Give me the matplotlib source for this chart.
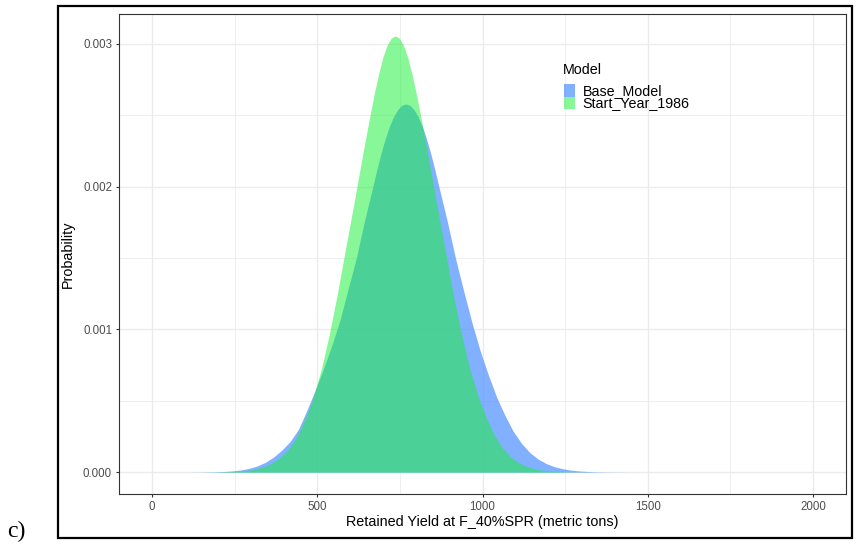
import matplotlib
matplotlib.use("Agg")
import matplotlib.pyplot as plt
from matplotlib.patches import Rectangle

plt.rcParams['font.family'] = ['Liberation Sans', 'DejaVu Sans']

# density curves
base_x = [118, 143, 168, 193, 218, 243, 268, 293, 318, 343, 368, 393, 418, 443,
          468, 493, 518, 543, 568, 593, 618, 643, 668, 680.5, 693, 705.5, 718,
          730.5, 743, 755.5, 768, 780.5, 793, 805.5, 818, 830.5, 843, 855.5,
          868, 893, 918, 943, 968, 993, 1018, 1043, 1068, 1093, 1118,
          1143, 1168, 1193, 1218, 1243, 1268, 1293, 1318, 1343, 1368, 1393,
          1418, 1443]
base_y = [4e-7, 8e-7, 1.4e-6, 2.6e-6, 4.8e-6, 8.6e-6, 1.5e-5, 2.6e-5, 4.3e-5,
          6.9e-5, 0.000106, 0.000155, 0.000215, 0.000300, 0.000430, 0.000570,
          0.000720, 0.000880, 0.001060, 0.001280, 0.001500, 0.001761, 0.001999,
          0.002122, 0.002235, 0.002335, 0.002421, 0.002489, 0.002539, 0.002570,
          0.002580, 0.002570, 0.002539, 0.002489, 0.002421, 0.002335, 0.002235,
          0.002122, 0.001999, 0.001761, 0.001500, 0.001270, 0.001048, 0.000850,
          0.000679, 0.000524, 0.000397, 0.000286, 0.000202, 0.000138, 9.2e-5,
          6.0e-5, 3.8e-5, 2.4e-5, 1.4e-5, 8.3e-6, 4.8e-6, 2.6e-6, 1.4e-6, 8e-7,
          4e-7, 2e-7]

start_x = [161, 186, 211, 236, 261, 286, 311, 336, 361, 386, 411, 436, 461, 486,
           511, 536, 561, 586, 611, 636, 648.5, 661, 673.5, 686, 698.5, 711,
           723.5, 736, 748.5, 761, 773.5, 786, 798.5, 811, 823.5, 836, 861,
           886, 911, 936, 961, 986, 1011, 1036, 1061, 1086, 1111, 1136,
           1161, 1186, 1211, 1236, 1261, 1286, 1311]
start_y = [3.5e-7, 7.6e-7, 1.6e-6, 3.2e-6, 6.3e-6, 1.15e-5, 2.1e-5, 3.6e-5,
           6.1e-5, 0.000100, 0.000155, 0.000240, 0.000360, 0.000510, 0.000710,
           0.000960, 0.001252, 0.001571, 0.001883, 0.002208, 0.002364, 0.002515,
           0.002663, 0.002794, 0.002907, 0.002989, 0.003040, 0.003057, 0.003040,
           0.002989, 0.002907, 0.002794, 0.002663, 0.002515, 0.002364, 0.002208,
           0.001883, 0.001571, 0.001252, 0.000970, 0.000731, 0.000536, 0.000384,
           0.000259, 0.000168, 0.000106, 6.5e-5, 3.8e-5, 2.15e-5, 1.18e-5,
           6.3e-6, 3.2e-6, 1.6e-6, 7.6e-7, 3.5e-7]

labels = ['Base_Model', 'Start_Year_1986']
fills = ['#619CFF', '#1CF03B']
alphas = [0.8, 0.52]

x_ticks = [0, 500, 1000, 1500, 2000]
y_ticks = [0.0, 0.001, 0.002, 0.003]
y_ticklabels = ['0.000', '0.001', '0.002', '0.003']

fig = plt.figure(figsize=(8.57, 5.48), dpi=100)
ax = fig.add_axes([119 / 857, 1 - 494 / 548, 727 / 857, 480 / 548])

ax.fill_between(base_x, base_y, color=fills[0], alpha=alphas[0], lw=0, zorder=2)
ax.fill_between(start_x, start_y, color=fills[1], alpha=alphas[1], lw=0, zorder=3)

ax.set_xlim(-100, 2100)
ax.set_ylim(-0.000153, 0.00321)

ax.set_xticks(x_ticks)
ax.set_xticklabels([str(t) for t in x_ticks])
ax.set_yticks(y_ticks)
ax.set_yticklabels(y_ticklabels)
ax.set_xticks([250, 750, 1250, 1750], minor=True)
ax.set_yticks([0.0005, 0.0015, 0.0025], minor=True)
ax.grid(which='major', color='#EBEBEB', lw=1.0, zorder=0)
ax.grid(which='minor', color='#EBEBEB', lw=0.6, zorder=0)
ax.set_axisbelow(True)
ax.tick_params(which='major', length=2.5, width=0.8, color='#333333',
               labelcolor='#4D4D4D', labelsize=8.3, pad=2.5)
ax.tick_params(which='minor', length=0)
for s in ax.spines.values():
    s.set_color('#333333')
    s.set_linewidth(0.8)

ax.set_xlabel('Retained Yield at F_40%SPR (metric tons)', fontsize=10.4, va='center')
ax.xaxis.set_label_coords(0.5, -0.0583)
ax.set_ylabel('Probability', fontsize=10.4, va='center')
ax.yaxis.set_label_coords(-0.0702, 0.5)

# legend
ax.text(0.6107, 0.883, 'Model', transform=ax.transAxes, fontsize=10.3,
        ha='left', va='center')
key_bottoms = [0.8277, 0.8015]
text_ys = [0.8402, 0.814]
for i in range(2):
    ax.add_patch(Rectangle((0.6115, key_bottoms[i]), 0.0151, 0.0262,
                           transform=ax.transAxes, facecolor=fills[i],
                           alpha=alphas[i], lw=0, clip_on=False))
    ax.text(0.638, text_ys[i], labels[i], transform=ax.transAxes,
            fontsize=10.3, ha='left', va='center')

# outer frame and panel tag
fig.patches.append(Rectangle((57.5 / 857, 1 - 538 / 548), 794 / 857, 532 / 548,
                             transform=fig.transFigure, fill=False,
                             edgecolor='black', lw=1.6))
fig.text(7 / 857, 1 - 537 / 548, 'c)', fontsize=17,
         family=['Liberation Serif', 'DejaVu Serif'], ha='left', va='baseline')

fig.savefig('out.png', dpi=100)
